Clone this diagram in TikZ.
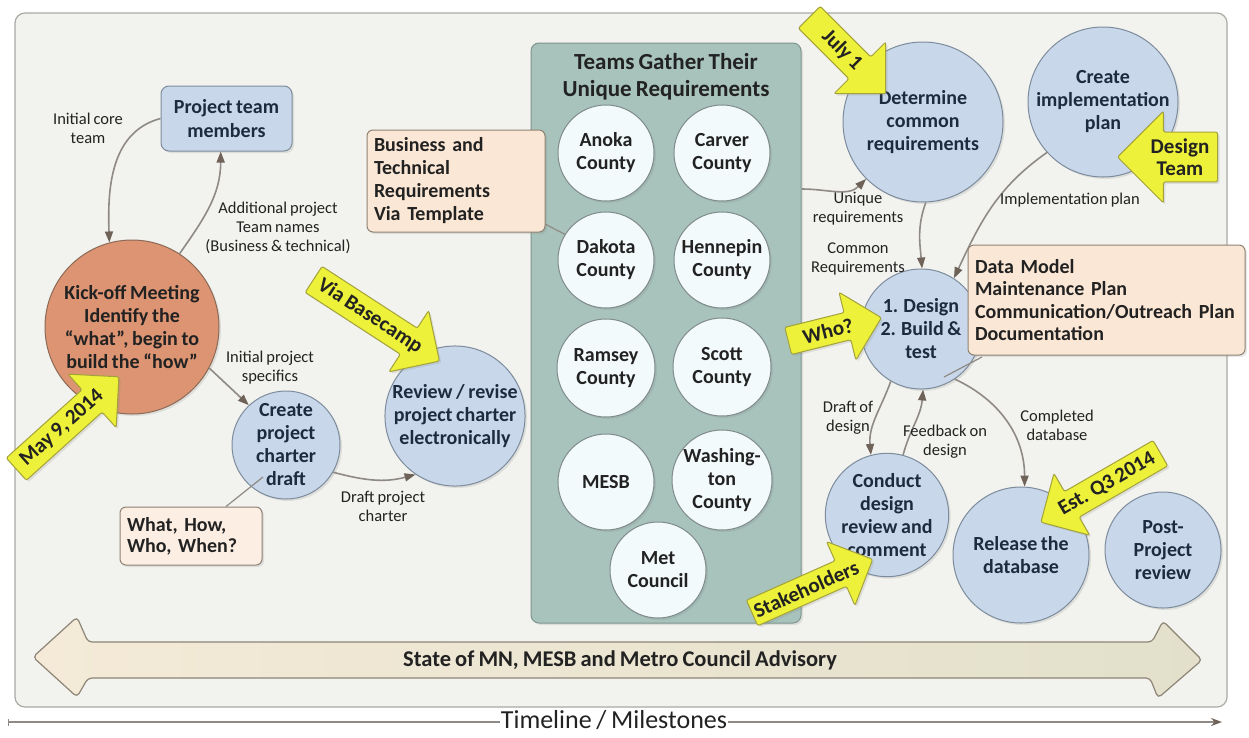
\documentclass[tikz,border=0pt]{standalone}
\usepackage{fontspec}
\setmainfont{Carlito}[WordSpace=0.8]
\usetikzlibrary{shapes.arrows,shapes.geometric,arrows.meta,calc,shadows}
\newcommand\myfs[2]{\fontsize{#1}{#2}\selectfont}
\definecolor{cpanel}{HTML}{F2F2EE}
\definecolor{cpanelb}{HTML}{A9A9A6}
\definecolor{cblue}{HTML}{C8D8EA}
\definecolor{cblueb}{HTML}{7C8C9C}
\definecolor{ckick}{HTML}{DC9472}
\definecolor{ckickb}{HTML}{8B6A56}
\definecolor{cgreen}{HTML}{A8C3BB}
\definecolor{cgreenb}{HTML}{7E948E}
\definecolor{ccounty}{HTML}{F3FAFB}
\definecolor{ccountyb}{HTML}{7F8B8B}
\definecolor{cpeach}{HTML}{FBE7D5}
\definecolor{cwhat}{HTML}{FCEEE3}
\definecolor{cpeachb}{HTML}{8E8272}
\definecolor{cyellow}{HTML}{EEF13A}
\definecolor{cyolive}{HTML}{A3A23A}
\definecolor{cline}{HTML}{8F8A85}
\definecolor{ctip}{HTML}{6F6259}
\definecolor{ctext}{HTML}{1E2A40}
\definecolor{ctext2}{HTML}{222222}
\definecolor{carrowL}{HTML}{F4EAD7}
\definecolor{carrowR}{HTML}{E2E0CB}
\definecolor{carrowb}{HTML}{8D8576}
\begin{document}
\begin{tikzpicture}[x=1pt,y=1pt,
  shad/.style={drop shadow={opacity=0.18,shadow xshift=2pt,shadow yshift=-2pt}},
  bluec/.style={circle, fill=cblue, draw=cblueb, line width=1pt, text=ctext, font=\myfs{20}{23}\bfseries, align=center, inner sep=0pt, minimum size=#1, shad},
  countyc/.style={circle, fill=ccounty, draw=ccountyb, line width=1pt, text=ctext2, font=\myfs{20}{23}\bfseries, align=center, inner sep=0pt, minimum size=#1, shad},
  peachbox/.style={rectangle, rounded corners=6pt, fill=cpeach, draw=cpeachb, line width=1pt, font=\myfs{20}{23}\bfseries, align=left, text=ctext2, inner xsep=7pt, shad},
  conn/.style={draw=cline, line width=1.6pt, -{Triangle[length=11pt,width=8pt,color=ctip]}},
  plain/.style={draw=cline, line width=1.2pt},
  lab/.style={font=\myfs{16.5}{19}, align=center, text=ctext2},
  callout/.style={single arrow, fill=cyellow, draw=cyolive, line width=1pt, rounded corners=2pt, font=\myfs{21}{22}\bfseries, text=ctext2, single arrow head extend=21pt, inner xsep=2pt, inner ysep=6pt, align=center, shad}]
\useasboundingbox (0,0) rectangle (1249,-737);
\fill[white] (0,0) rectangle (1249,-737);
% outer panel
\node[rectangle, rounded corners=10pt, fill=cpanel, draw=cpanelb, line width=1.2pt, minimum width=1212pt, minimum height=694pt, inner sep=0pt] (panel) at (621,-360) {};
% big double arrow
\path[left color=carrowL, right color=carrowR, draw=carrowb, line width=1.2pt, rounded corners=4pt]
  (33,-657) -- (77,-617) -- (88,-642) -- (1152,-642) -- (1163,-621) -- (1202,-660) -- (1158,-698) -- (1150,-678) -- (88,-678) -- (77,-697) -- cycle;
\node[font=\myfs{22.5}{24}\bfseries, text=ctext2] (advisory) at (620,-660) {State of MN, MESB and Metro Council Advisory};
% timeline
\coordinate (tl0) at (8,-722);
\coordinate (tl1) at (1222,-722);
\draw[draw=cline, line width=1.4pt, {Bar[width=7pt]}-{Stealth[length=11pt,width=8pt,color=ctip]}] (tl0) -- (tl1);
\node[fill=white, font=\myfs{26}{28}, text=ctext2, inner xsep=1pt, inner ysep=2pt] (timeline) at (614,-720) {Timeline / Milestones};
% green panel
\node[rectangle, rounded corners=8pt, fill=cgreen, draw=cgreenb, line width=1pt, minimum width=270pt, minimum height=580pt, inner sep=0pt, shad] (green) at (666,-333) {};
\node[font=\myfs{23}{27}\bfseries, text=ctext2, align=center] (title) at (666,-77) {Teams Gather Their\\Unique Requirements};
% counties
\node[countyc=96pt] (anoka) at (606,-153) {Anoka\\County};
\node[countyc=96pt] (carver) at (722,-153) {Carver\\County};
\node[countyc=96pt] (dakota) at (606,-260) {Dakota\\County};
\node[countyc=96pt] (hennepin) at (722,-260) {Hennepin\\County};
\node[countyc=98pt] (ramsey) at (606,-368) {Ramsey\\County};
\node[countyc=98pt] (scott) at (722,-367) {Scott\\County};
\node[countyc=96pt] (mesb) at (606,-482) {MESB};
\node[countyc=100pt] (wash) at (722,-480) {Washing-\\ton\\County};
\node[countyc=96pt] (met) at (658,-570) {Met\\Council};
% main nodes
\node[rectangle, rounded corners=8pt, fill=cblue, draw=cblueb, line width=1pt, minimum width=131pt, minimum height=65pt, text=ctext, font=\myfs{20}{24}\bfseries, align=center, shad] (ptm) at (226.5,-118.5) {Project team\\members};
\node[circle, fill=ckick, draw=ckickb, line width=1pt, minimum size=174pt, inner sep=0pt, text=ctext2, font=\myfs{20}{23}\bfseries, align=center, shad] (kick) at (132,-327) {Kick-off Meeting\\Identify the\\“what”, begin to\\build the “how”};
\node[bluec=108pt] (create) at (286,-445) {Create\\project\\charter\\draft};
\node[bluec=138pt] (review) at (455,-416) {Review / revise\\project charter\\electronically};
\node[bluec=160pt] (determine) at (923,-122) {Determine\\common\\requirements};
\node[bluec=150pt] (impl) at (1103,-102) {Create\\implementation\\plan};
\node[bluec=120pt] (design) at (921,-329) {1. Design\\2. Build \&\\test};
\node[bluec=118pt] (conduct) at (887,-515) {Conduct\\design\\review and\\comment};
\node[bluec=136pt] (release) at (1021,-555) {Release the\\database};
\node[bluec=116pt] (post) at (1163,-550) {Post-\\Project\\review};
% boxes
\node[peachbox, text width=164pt, minimum height=102pt] (biz) at (456,-181) {Business and\\Technical\\Requirements\\Via Template};
\node[peachbox, fill=cwhat, text width=128pt, minimum height=58pt, font=\myfs{20}{21}\bfseries] (what) at (191,-536) {What, How,\\Who, When?};
\node[peachbox, text width=263pt, minimum height=110pt, font=\myfs{20}{22.5}\bfseries] (datab) at (1106.5,-300) {Data Model\\Maintenance Plan\\Communication/Outreach Plan\\Documentation};
% arrows
\draw[conn] (ptm.west) to[out=195,in=92] (kick.105);
\draw[conn] (kick.57) to[out=55,in=270] (ptm.260);
\draw[conn] (kick.-28) -- (create.133);
\draw[conn] (create.-30) to[out=-15,in=195] (review.236);
\coordinate (gu) at (802,-189);
\draw[conn] (gu) to[out=0,in=225] (determine.225);
\draw[conn] (determine.272) to[out=250,in=95] (design.89);
\draw[conn] (impl.222) to[out=215,in=65] (design.57);
\draw[conn] (design.240) to[out=250,in=95] (conduct.105);
\draw[conn] (conduct.75) to[out=75,in=265] (design.272);
\draw[conn] (design.-56) to[out=-25,in=90] (release.87);
% plain links
\coordinate (whatend) at (263,-477);
\draw[plain] (what.north) ++(35,0) coordinate (whatst) -- (whatend);
\coordinate (bizst) at (545,-224);
\draw[plain] (bizst) -- (dakota.148);
\coordinate (datast) at (982,-357);
\coordinate (dataend) at (944,-377);
\draw[plain] (datast) -- (dataend);
% labels
\node[lab] (l1) at (88,-128) {Initial core\\team};
\node[lab] (l2) at (278,-228) {Additional project\\Team names\\(Business \& technical)};
\node[lab] (l3) at (270,-368) {Initial project\\specifics};
\node[lab] (l4) at (383,-506) {Draft project\\charter};
\node[lab] (l5) at (858,-209) {Unique\\requirements};
\node[lab] (l6) at (858,-259) {Common\\Requirements};
\node[lab] (l7) at (1070,-200) {Implementation plan};
\node[lab] (l8) at (848,-418) {Draft of\\design};
\node[lab] (l9) at (945,-442) {Feedback on\\design};
\node[lab] (l10) at (1057,-425) {Completed\\database};
% callouts
\node[callout, rotate=42, minimum height=138pt] (may) at (62,-428) {May 9, 2014};
\node[callout, rotate=-33, minimum height=150pt] (via) at (370,-316) {Via Basecamp};
\node[callout, rotate=-45, minimum height=108pt] (july) at (842,-50) {July 1};
\node[callout, shape border rotate=180, minimum height=100pt] (dteam) at (1180,-157) {Design\\Team};
\node[callout, rotate=14, minimum height=96pt] (who) at (828,-331) {Who?};
\node[callout, rotate=24, minimum height=132pt] (stake) at (806,-589) {Stakeholders};
\node[callout, rotate=30, shape border rotate=180, minimum height=138pt] (est) at (1107,-484) {Est. Q3 2014};
\end{tikzpicture}
\end{document}
